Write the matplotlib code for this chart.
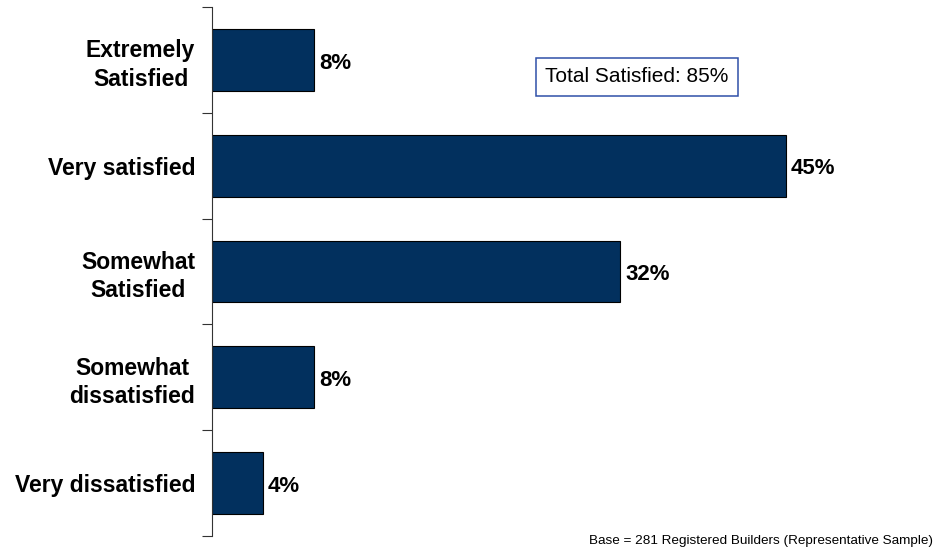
import numpy as np
import matplotlib.pyplot as plt

plt.rcParams['font.family'] = ['Liberation Sans', 'DejaVu Sans']

categories = ['Extremely\nSatisfied', 'Very satisfied', 'Somewhat\nSatisfied',
              'Somewhat\ndissatisfied', 'Very dissatisfied']
values = [8, 45, 32, 8, 4]
total_label = 'Total Satisfied: 85%'
base_note = 'Base = 281 Registered Builders (Representative Sample)'

fig = plt.figure(figsize=(9.36, 5.48), dpi=100)
ax = fig.add_axes([212 / 936, 12 / 548, (899 - 212) / 936, 529 / 548])

y = np.arange(len(categories))
bars = ax.barh(y, values, height=0.585, color='#02305E', edgecolor='black', linewidth=0.8)

for b, v in zip(bars, values):
    ax.text(b.get_width() + 0.4, b.get_y() + b.get_height() / 2 + 0.03, f'{v}%',
            va='center', ha='left', fontsize=16, fontweight='bold')

ax.set_xlim(0, (899 - 212) / 12.75)
ax.set_ylim(len(categories) - 0.5, -0.5)

# category labels at bar centres, tick marks at the band edges
ax.set_yticks(y)
ax.set_yticklabels(categories, fontsize=16.5, fontweight='bold', multialignment='center',
                   linespacing=1.3)
ax.tick_params(axis='y', which='major', length=0, pad=12)
ax.set_yticks(np.arange(len(categories) + 1) - 0.5, minor=True)
ax.tick_params(axis='y', which='minor', length=7, width=0.8, color='#333333')
ax.set_xticks([])

for s in ['top', 'right', 'bottom']:
    ax.spines[s].set_visible(False)
ax.spines['left'].set_color('#333333')
ax.spines['left'].set_linewidth(0.8)

fig.text(637 / 936, 1 - 77 / 548, total_label, ha='center', va='center', fontsize=15,
         bbox=dict(boxstyle='square,pad=0.45', facecolor='white', edgecolor='#2F4FA8', linewidth=1.1))

fig.text(933 / 936, 1 - 541 / 548, base_note, ha='right', va='center', fontsize=9.7)

fig.savefig('out.png', dpi=100)
